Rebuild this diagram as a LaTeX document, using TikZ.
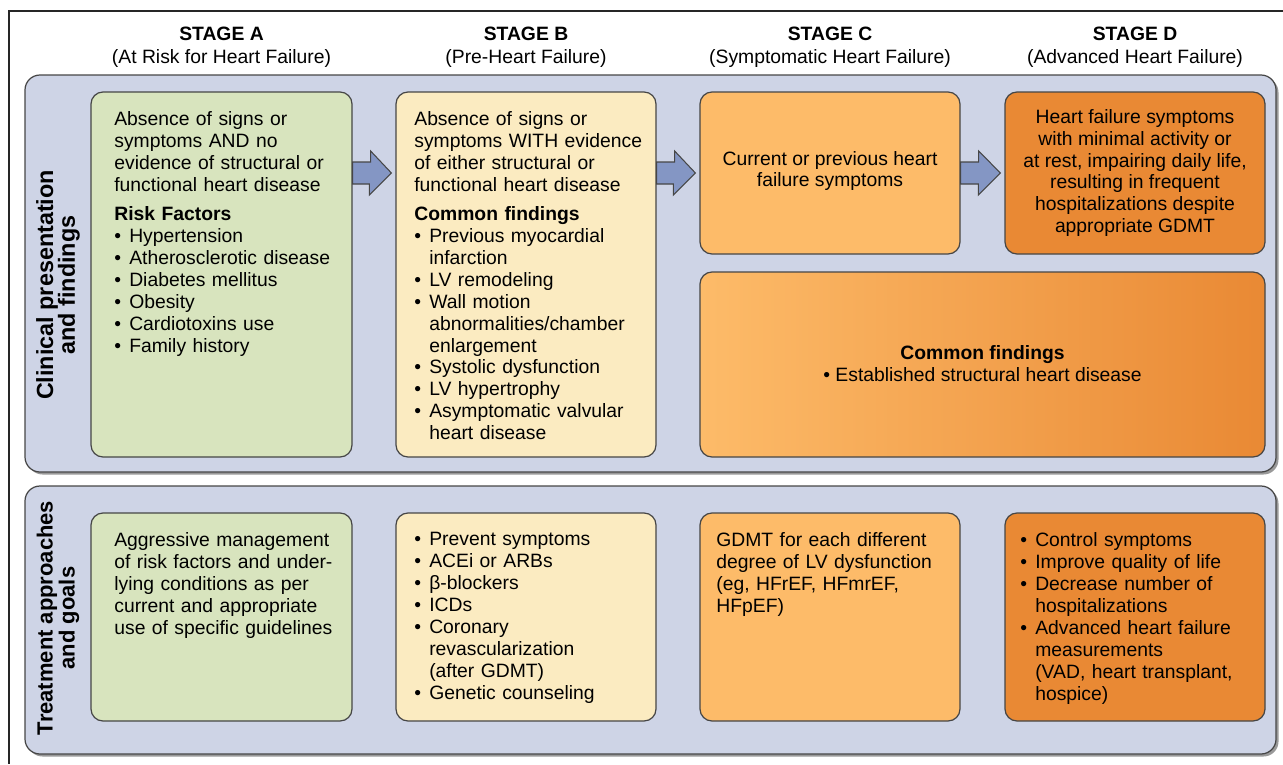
\documentclass[tikz,border=0pt]{standalone}
\usepackage{fontspec}
\setmainfont{Liberation Sans}
\usetikzlibrary{positioning, fit, calc, shadows}
\definecolor{panelblue}{RGB}{206,212,230}
\definecolor{stagegreen}{RGB}{216,228,190}
\definecolor{stageyellow}{RGB}{251,235,193}
\definecolor{stageorange}{RGB}{253,187,105}
\definecolor{stagedark}{RGB}{233,137,52}
\definecolor{arrowblue}{RGB}{132,150,196}
\definecolor{edgegray}{RGB}{70,70,70}
\newcommand{\bitem}[1]{\hangindent=8.5pt\hangafter=1\noindent\makebox[8.5pt][l]{\textbullet}#1\par}

\begin{document}
\begin{tikzpicture}[x=0.02cm, y=-0.02cm]

        % Styles
        \tikzset{
            panel/.style={draw=edgegray, line width=0.7pt, fill=panelblue, rounded corners=0.3cm, inner sep=0pt,
                drop shadow={shadow xshift=0.05cm, shadow yshift=-0.05cm, opacity=1, fill=gray!80}},
            stagebox/.style={draw=edgegray, line width=0.7pt, rounded corners=0.24cm, inner sep=0pt},
            txt/.style={font=\fontsize{11}{12.5}\selectfont, inner sep=0pt, text width=5.2cm, align=left, anchor=north west},
            ctxt/.style={font=\fontsize{11}{12.5}\selectfont, inner sep=0pt, align=center},
            stagehead/.style={font=\fontsize{11}{13}\selectfont, inner sep=0pt, align=center},
            sidelabel/.style={font=\fontsize{12.5}{12.5}\selectfont\bfseries, inner sep=0pt, align=center, rotate=90},
            flowarrow/.style={draw=edgegray, line width=0.6pt, fill=arrowblue, line join=miter}
        }

        \useasboundingbox (0,0) rectangle (1283,764);

        % --- Outer frame ---
        \draw[line width=1.1pt, draw=black!85] (1283,11) -- (9,11) -- (9,764);

        % --- Panels ---
        \node[panel, fit={(25,75) (1276,472)}] (clinPanel) {};
        \node[panel, fit={(25,486) (1276,754)}] (treatPanel) {};

        \node[sidelabel, font=\fontsize{13.3}{12.5}\selectfont\bfseries] (clinLabel) at (58,285) {Clinical presentation\\and findings};
        \node[sidelabel] (treatLabel) at (58,618) {Treatment approaches\\and goals};

        % --- Clinical presentation row ---
        \node[stagebox, fill=stagegreen, fit={(91,92) (352,457)}] (stA1) {};
        \node[stagebox, fill=stageyellow, fit={(396,92) (656,457)}] (stB1) {};
        \node[stagebox, fill=stageorange, fit={(700,92) (960,254)}] (stC1) {};
        \node[stagebox, fill=stagedark, fit={(1005,92) (1265,254)}] (stD1) {};
        \node[stagebox, left color=stageorange, right color=stagedark, fit={(700,272) (1265,457)}] (stCD1) {};

        % --- Stage headings ---
        \coordinate (hdrrow) at (0,47);
        \node[stagehead] (hdA) at (stA1.north |- hdrrow) {\textbf{STAGE A}\\(At Risk for Heart Failure)};
        \node[stagehead] (hdB) at (stB1.north |- hdrrow) {\textbf{STAGE B}\\(Pre-Heart Failure)};
        \node[stagehead] (hdC) at (stC1.north |- hdrrow) {\textbf{STAGE C}\\(Symptomatic Heart Failure)};
        \node[stagehead] (hdD) at (stD1.north |- hdrrow) {\textbf{STAGE D}\\(Advanced Heart Failure)};

        % --- Arrows between stages ---
        \coordinate (arrowrow) at (0,173);
        \foreach \from/\to in {stA1/stB1, stB1/stC1, stC1/stD1}
            \draw[flowarrow] ($(\from.east |- arrowrow)+(0,-11)$) -- ++(18,0) -- ++(0,-11)
                -- ($(\to.west |- arrowrow)+(-4,0)$) -- ++(-22,22) -- ++(0,-11)
                -- ($(\from.east |- arrowrow)+(0,11)$) -- cycle;

        % --- Texts, clinical row ---
        \node[txt] (txtA1) at (114,111) {Absence of signs or\\symptoms AND no\\evidence of structural or\\functional heart disease\\[4pt]
            \textbf{Risk Factors}\par
            \bitem{Hypertension}
            \bitem{Atherosclerotic disease}
            \bitem{Diabetes mellitus}
            \bitem{Obesity}
            \bitem{Cardiotoxins use}
            \bitem{Family history}};
        \node[txt] (txtB1) at (414,111) {Absence of signs or\\symptoms WITH evidence\\of either structural or\\functional heart disease\\[4pt]
            \textbf{Common findings}\par
            \bitem{Previous myocardial\newline infarction}
            \bitem{LV remodeling}
            \bitem{Wall motion\newline abnormalities/chamber\newline enlargement}
            \bitem{Systolic dysfunction}
            \bitem{LV hypertrophy}
            \bitem{Asymptomatic valvular\newline heart disease}};
        \node[ctxt] (txtC1) at ($(stC1.center)+(0,-2)$) {Current or previous heart\\failure symptoms};
        \node[ctxt] (txtD1) at (stD1.center) {Heart failure symptoms\\with minimal activity or\\at rest, impairing daily life,\\resulting in frequent\\hospitalizations despite\\appropriate GDMT};
        \node[ctxt] (txtCD1) at ($(stCD1.center)+(0,-1)$) {\textbf{Common findings}\\\textbullet\ Established structural heart disease};

        % --- Treatment row ---
        \node[stagebox, fill=stagegreen, fit={(91,513) (352,721)}] (stA2) {};
        \node[stagebox, fill=stageyellow, fit={(396,513) (656,721)}] (stB2) {};
        \node[stagebox, fill=stageorange, fit={(700,513) (960,721)}] (stC2) {};
        \node[stagebox, fill=stagedark, fit={(1005,513) (1265,721)}] (stD2) {};

        \node[txt] (txtA2) at (114,532) {Aggressive management\\of risk factors and under-\\lying conditions as per\\current and appropriate\\use of specific guidelines};
        \node[txt] (txtB2) at (414,532) {\bitem{Prevent symptoms}
            \bitem{ACEi or ARBs}
            \bitem{β-blockers}
            \bitem{ICDs}
            \bitem{Coronary\newline revascularization\newline (after GDMT)}
            \bitem{Genetic counseling}};
        \node[txt] (txtC2) at (716,532) {GDMT for each different\\degree of LV dysfunction\\(eg, HFrEF, HFmrEF,\\HFpEF)};
        \node[txt] (txtD2) at (1020,532) {\bitem{Control symptoms}
            \bitem{Improve quality of life}
            \bitem{Decrease number of\newline hospitalizations}
            \bitem{Advanced heart failure\newline measurements\newline (VAD, heart transplant,\newline hospice)}};

\end{tikzpicture}
\end{document}
